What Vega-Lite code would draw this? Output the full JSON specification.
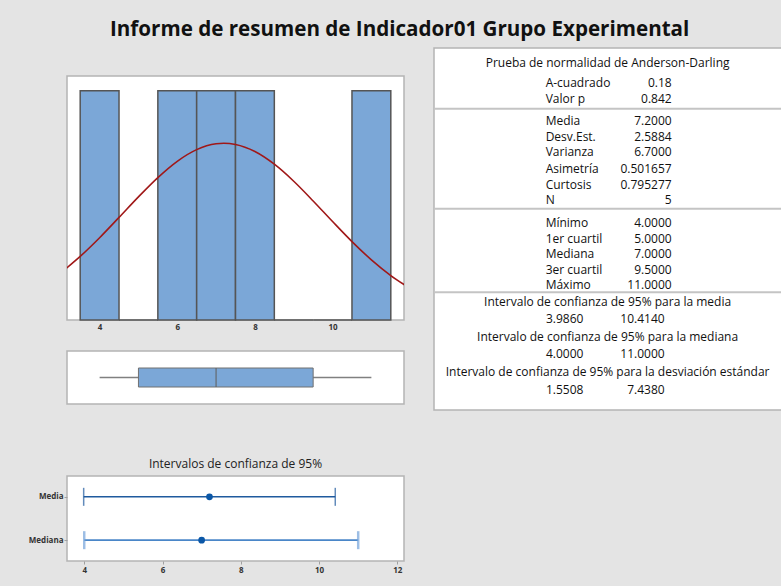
{
  "$schema": "https://vega.github.io/schema/vega-lite/v6.json",
  "background": "#e4e4e4",
  "padding": {"left": 27, "top": 19, "right": 0, "bottom": 12},
  "title": {
    "text": "Informe de resumen de Indicador01 Grupo Experimental",
    "font": "Open Sans",
    "fontSize": 20.6,
    "fontWeight": "bold",
    "color": "#111111",
    "anchor": "middle",
    "offset": 7,
    "dx": -7
  },
  "config": {
    "font": "Open Sans",
    "view": {"fill": "white", "stroke": "#b4b4b4", "strokeWidth": 1.5},
    "axis": {
      "labelFont": "Open Sans",
      "labelFontWeight": "bold",
      "labelFontSize": 8,
      "labelColor": "#333333",
      "domain": false,
      "grid": false,
      "tickColor": "#a0a0a0",
      "tickSize": 3
    }
  },
  "spacing": 27,
  "hconcat": [
    {
      "bounds": "flush",
      "spacing": 10,
      "vconcat": [
        {
          "width": 337,
          "height": 17.5,
          "data": {"values": []},
          "mark": "point",
          "view": {"stroke": "transparent", "fill": "transparent"}
        },
        {
          "width": 337,
          "height": 244,
          "layer": [
            {
              "data": {
                "values": [
                  {"lo": 3.5, "hi": 4.5, "n": 1},
                  {"lo": 4.5, "hi": 5.5, "n": 0},
                  {"lo": 5.5, "hi": 6.5, "n": 1},
                  {"lo": 6.5, "hi": 7.5, "n": 1},
                  {"lo": 7.5, "hi": 8.5, "n": 1},
                  {"lo": 8.5, "hi": 9.5, "n": 0},
                  {"lo": 9.5, "hi": 10.5, "n": 0},
                  {"lo": 10.5, "hi": 11.5, "n": 1}
                ]
              },
              "mark": {"type": "rect", "fill": "#7ba7d7", "stroke": "#555555", "strokeWidth": 1.5},
              "encoding": {
                "x": {
                  "field": "lo",
                  "type": "quantitative",
                  "scale": {"domain": [3.16, 11.84], "nice": false, "zero": false},
                  "axis": {"values": [4, 6, 8, 10], "ticks": false, "labelPadding": 3, "title": null}
                },
                "x2": {"field": "hi"},
                "y": {
                  "field": "n",
                  "type": "quantitative",
                  "scale": {"domain": [0, 1.064], "nice": false},
                  "axis": null
                },
                "y2": {"datum": 0}
              }
            },
            {
              "data": {
                "values": [
                  {"x": 3.1, "d": 0.2198},
                  {"x": 3.5, "d": 0.2774},
                  {"x": 4.0, "d": 0.3589},
                  {"x": 4.5, "d": 0.4473},
                  {"x": 5.0, "d": 0.537},
                  {"x": 5.5, "d": 0.6211},
                  {"x": 6.0, "d": 0.6921},
                  {"x": 6.5, "d": 0.7429},
                  {"x": 7.0, "d": 0.7683},
                  {"x": 7.2, "d": 0.7706},
                  {"x": 7.5, "d": 0.7654},
                  {"x": 8.0, "d": 0.7347},
                  {"x": 8.5, "d": 0.6793},
                  {"x": 9.0, "d": 0.6051},
                  {"x": 9.5, "d": 0.5192},
                  {"x": 10.0, "d": 0.4293},
                  {"x": 10.5, "d": 0.3419},
                  {"x": 11.0, "d": 0.2623},
                  {"x": 11.5, "d": 0.1939},
                  {"x": 11.9, "d": 0.1482}
                ]
              },
              "mark": {"type": "line", "color": "#a01818", "strokeWidth": 1.6, "clip": true, "interpolate": "monotone"},
              "encoding": {
                "x": {"field": "x", "type": "quantitative"},
                "y": {"field": "d", "type": "quantitative"}
              }
            }
          ]
        },
        {
          "width": 337,
          "height": 11,
          "data": {"values": []},
          "mark": "point",
          "view": {"stroke": "transparent", "fill": "transparent"}
        },
        {
          "width": 337,
          "height": 53,
          "data": {"values": [{"grp": "a", "min": 4, "q1": 5, "med": 7, "q3": 9.5, "max": 11}]},
          "encoding": {"y": {"field": "grp", "type": "nominal", "axis": null}},
          "layer": [
            {
              "mark": {"type": "rule", "color": "#808080", "strokeWidth": 1.5},
              "encoding": {
                "x": {
                  "field": "min",
                  "type": "quantitative",
                  "scale": {"domain": [3.16, 11.84], "nice": false, "zero": false},
                  "axis": null
                },
                "x2": {"field": "max"}
              }
            },
            {
              "mark": {"type": "bar", "size": 19, "fill": "#7ba7d7", "stroke": "#707070", "strokeWidth": 1},
              "encoding": {
                "x": {"field": "q1", "type": "quantitative"},
                "x2": {"field": "q3"}
              }
            },
            {
              "mark": {"type": "tick", "orient": "vertical", "size": 19, "thickness": 1.5, "color": "#606060"},
              "encoding": {"x": {"field": "med", "type": "quantitative"}}
            }
          ]
        },
        {
          "width": 337,
          "height": 52,
          "data": {"values": []},
          "mark": "point",
          "view": {"stroke": "transparent", "fill": "transparent"}
        },
        {
          "width": 337,
          "height": 85,
          "title": {
            "text": "Intervalos de confianza de 95%",
            "font": "Open Sans",
            "fontSize": 12,
            "fontWeight": "normal",
            "color": "#222222",
            "offset": 5
          },
          "data": {
            "values": [
              {"stat": "Media", "est": 7.2, "lo": 3.986, "hi": 10.414},
              {"stat": "Mediana", "est": 7.0, "lo": 4.0, "hi": 11.0}
            ]
          },
          "encoding": {
            "y": {
              "field": "stat",
              "type": "nominal",
              "sort": ["Media", "Mediana"],
              "scale": {"type": "point", "padding": 0.48},
              "axis": {"title": null, "ticks": true, "tickSize": 3, "labelPadding": 1}
            }
          },
          "layer": [
            {
              "transform": [{"filter": "datum.stat == 'Media'"}],
              "mark": {"type": "rule", "color": "#1f5a9e", "strokeWidth": 1.5},
              "encoding": {
                "x": {
                  "field": "lo",
                  "type": "quantitative",
                  "scale": {"domain": [3.56, 12.17], "nice": false, "zero": false},
                  "axis": {"values": [4, 6, 8, 10, 12], "title": null, "labelPadding": 2}
                },
                "x2": {"field": "hi"}
              }
            },
            {
              "transform": [{"filter": "datum.stat == 'Mediana'"}],
              "mark": {"type": "rule", "color": "#4a86c8", "strokeWidth": 1.8},
              "encoding": {
                "x": {"field": "lo", "type": "quantitative"},
                "x2": {"field": "hi"}
              }
            },
            {
              "transform": [{"filter": "datum.stat == 'Media'"}, {"fold": ["lo", "hi"], "as": ["end", "v"]}],
              "mark": {"type": "tick", "orient": "vertical", "size": 18, "thickness": 1.5, "color": "#1f5a9e"},
              "encoding": {"x": {"field": "v", "type": "quantitative"}}
            },
            {
              "transform": [{"filter": "datum.stat == 'Mediana'"}, {"fold": ["lo", "hi"], "as": ["end", "v"]}],
              "mark": {"type": "tick", "orient": "vertical", "size": 18, "thickness": 2.5, "color": "#74a3da"},
              "encoding": {"x": {"field": "v", "type": "quantitative"}}
            },
            {
              "mark": {"type": "point", "filled": true, "shape": "circle", "size": 45, "color": "#0b57a7", "opacity": 1},
              "encoding": {"x": {"field": "est", "type": "quantitative"}}
            }
          ]
        }
      ]
    },
    {
      "width": 350,
      "height": 362,
      "data": {
        "values": [
          {"line": 0.98, "head": "Prueba de normalidad de Anderson-Darling"},
          {"line": 2.2, "label": "A-cuadrado", "value": "0.18"},
          {"line": 3.22, "label": "Valor p", "value": "0.842"},
          {"line": 4.63, "label": "Media", "value": "7.2000"},
          {"line": 5.62, "label": "Desv.Est.", "value": "2.5884"},
          {"line": 6.61, "label": "Varianza", "value": "6.7000"},
          {"line": 7.63, "label": "Asimetría", "value": "0.501657"},
          {"line": 8.64, "label": "Curtosis", "value": "0.795277"},
          {"line": 9.63, "label": "N", "value": "5"},
          {"line": 11.06, "label": "Mínimo", "value": "4.0000"},
          {"line": 12.06, "label": "1er cuartil", "value": "5.0000"},
          {"line": 13.05, "label": "Mediana", "value": "7.0000"},
          {"line": 14.06, "label": "3er cuartil", "value": "9.5000"},
          {"line": 15.03, "label": "Máximo", "value": "11.0000"},
          {"line": 16.06, "head": "Intervalo de confianza de 95% para la media"},
          {"line": 17.14, "lo": "3.9860", "hi": "10.4140"},
          {"line": 18.3, "head": "Intervalo de confianza de 95% para la mediana"},
          {"line": 19.35, "lo": "4.0000", "hi": "11.0000"},
          {"line": 20.49, "head": "Intervalo de confianza de 95% para la desviación estándar"},
          {"line": 21.66, "lo": "1.5508", "hi": "7.4380"}
        ]
      },
      "encoding": {
        "y": {
          "field": "line",
          "type": "quantitative",
          "scale": {"domain": [0, 22.91], "reverse": true, "nice": false, "zero": false},
          "axis": null
        }
      },
      "layer": [
        {
          "data": {"values": [{"line": 3.85}, {"line": 10.18}, {"line": 15.46}]},
          "mark": {"type": "rule", "color": "#c4c4c4", "strokeWidth": 2}
        },
        {
          "transform": [{"filter": "isValid(datum.head)"}],
          "mark": {"type": "text", "align": "center", "baseline": "middle", "font": "Open Sans", "fontSize": 12, "color": "#111111"},
          "encoding": {
            "x": {"datum": 49.6, "type": "quantitative", "scale": {"domain": [0, 100], "nice": false, "zero": false}, "axis": null},
            "text": {"field": "head"}
          }
        },
        {
          "transform": [{"filter": "isValid(datum.label)"}],
          "mark": {"type": "text", "align": "left", "baseline": "middle", "font": "Open Sans", "fontSize": 12, "color": "#111111"},
          "encoding": {
            "x": {"datum": 31.9, "type": "quantitative"},
            "text": {"field": "label"}
          }
        },
        {
          "transform": [{"filter": "isValid(datum.value)"}],
          "mark": {"type": "text", "align": "right", "baseline": "middle", "font": "Open Sans", "fontSize": 12, "color": "#111111"},
          "encoding": {
            "x": {"datum": 67.9, "type": "quantitative"},
            "text": {"field": "value"}
          }
        },
        {
          "transform": [{"filter": "isValid(datum.lo)"}],
          "mark": {"type": "text", "align": "right", "baseline": "middle", "font": "Open Sans", "fontSize": 12, "color": "#111111"},
          "encoding": {
            "x": {"datum": 42.7, "type": "quantitative"},
            "text": {"field": "lo"}
          }
        },
        {
          "transform": [{"filter": "isValid(datum.hi)"}],
          "mark": {"type": "text", "align": "right", "baseline": "middle", "font": "Open Sans", "fontSize": 12, "color": "#111111"},
          "encoding": {
            "x": {"datum": 65.9, "type": "quantitative"},
            "text": {"field": "hi"}
          }
        }
      ]
    }
  ]
}
